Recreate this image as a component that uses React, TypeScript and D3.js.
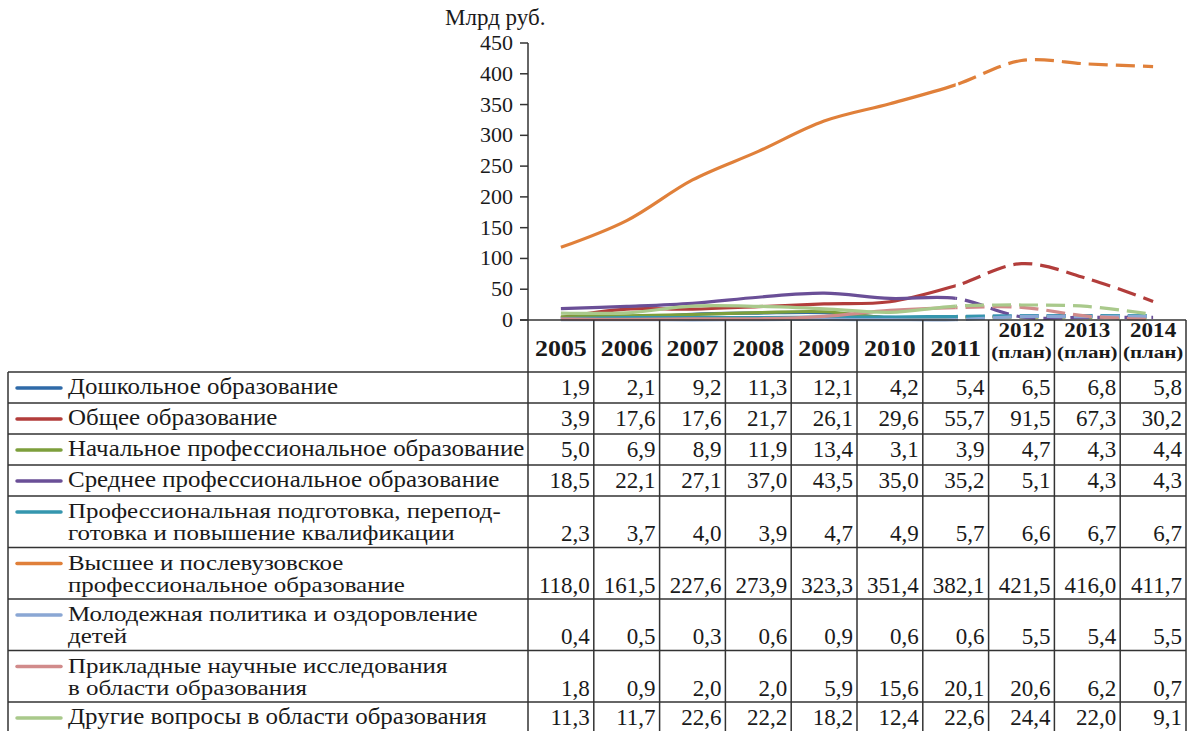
import React from 'react';
import * as d3 from 'd3';

// years in the table header; last three are planned
const years = ['2005', '2006', '2007', '2008', '2009', '2010', '2011', '2012', '2013', '2014'];
const isPlan = [false, false, false, false, false, false, false, true, true, true];
const yTicks = [0, 50, 100, 150, 200, 250, 300, 350, 400, 450];

// row labels (already split the way the source breaks them)
const seriesLabels = [
  ['Дошкольное образование'],
  ['Общее образование'],
  ['Начальное профессиональное образование'],
  ['Среднее профессиональное образование'],
  ['Профессиональная подготовка, перепод-', 'готовка и повышение квалификации'],
  ['Высшее и послевузовское', 'профессиональное образование'],
  ['Молодежная политика и оздоровление', 'детей'],
  ['Прикладные научные исследования', 'в области образования'],
  ['Другие вопросы в области образования'],
];

const preschool = [1.9, 2.1, 9.2, 11.3, 12.1, 4.2, 5.4, 6.5, 6.8, 5.8];
const general = [3.9, 17.6, 17.6, 21.7, 26.1, 29.6, 55.7, 91.5, 67.3, 30.2];
const primaryProf = [5.0, 6.9, 8.9, 11.9, 13.4, 3.1, 3.9, 4.7, 4.3, 4.4];
const secondaryProf = [18.5, 22.1, 27.1, 37.0, 43.5, 35.0, 35.2, 5.1, 4.3, 4.3];
const retraining = [2.3, 3.7, 4.0, 3.9, 4.7, 4.9, 5.7, 6.6, 6.7, 6.7];
const higher = [118.0, 161.5, 227.6, 273.9, 323.3, 351.4, 382.1, 421.5, 416.0, 411.7];
const youth = [0.4, 0.5, 0.3, 0.6, 0.9, 0.6, 0.6, 5.5, 5.4, 5.5];
const research = [1.8, 0.9, 2.0, 2.0, 5.9, 15.6, 20.1, 20.6, 6.2, 0.7];
const other = [11.3, 11.7, 22.6, 22.2, 18.2, 12.4, 22.6, 24.4, 22.0, 9.1];

const seriesValues = [preschool, general, primaryProf, secondaryProf, retraining, higher, youth, research, other];
const colors = ['#2f6aa8', '#b23d3b', '#7d9f3c', '#6a4f97', '#3596ae', '#e0803a', '#8aa7d4', '#d18b8b', '#a9c98b'];

const font = 'Liberation Serif';

const W = 1188;
const H = 731;
const tableLeft = 8;
const labelRight = 528;
const tableRight = 1186;
const plotTop = 43;
const axisY = 320;
const headerBottom = 372;
const lineH = 22;

// text stretched horizontally a little, the source typeface is wider than Liberation Serif
const Wide = ({ x, y, sx = 1, anchor = 'start', size, bold = false, children }) => (
  <text transform={`translate(${x},${y}) scale(${sx},1)`} fontSize={size} fontWeight={bold ? 'bold' : 'normal'}
    textAnchor={anchor} fill="#1a1a1a">
    {children}
  </text>
);

const App = () => {
  const x = d3.scaleBand().domain(years).range([labelRight, tableRight]);
  const y = d3.scaleLinear().domain([0, 450]).range([axisY, plotTop]);
  const cx = (i) => (x(years[i]) as number) + x.bandwidth() / 2;

  const line = d3.line<number>()
    .x((_, i) => cx(i))
    .y(d => y(d))
    .curve(d3.curveCatmullRom.alpha(0.5));

  // solid up to 2011, dashed after
  const splitX = cx(years.indexOf('2011'));

  // row layout for the table
  let top = headerBottom;
  const rows = seriesLabels.map((lines, i) => {
    const h = lines.length === 1 ? 31 : 51.5;
    const r = { top, h, lines, i };
    top += h;
    return r;
  });

  return (
    <svg width={W} height={H} style={{ position: 'absolute', left: 0, top: 0, background: '#fff', fontFamily: font }}>
      <defs>
        <clipPath id="solidPart">
          <rect x={0} y={0} width={splitX} height={axisY + 5} />
        </clipPath>
        <clipPath id="dashPart">
          <rect x={splitX} y={0} width={W - splitX} height={axisY + 5} />
        </clipPath>
      </defs>

      {/* unit label */}
      <Wide x={445} y={25} size={23}>Млрд руб.</Wide>

      {/* y axis */}
      <line x1={labelRight} x2={labelRight} y1={plotTop} y2={axisY} stroke="#333" strokeWidth={1.5} />
      {yTicks.map(t => (
        <g key={t}>
          <line x1={labelRight - 8} x2={labelRight} y1={y(t)} y2={y(t)} stroke="#333" strokeWidth={1.5} />
          <Wide x={labelRight - 15} y={y(t) + 7} size={22} anchor="end">{t}</Wide>
        </g>
      ))}

      {/* lines */}
      {seriesValues.map((vals, i) => (
        <g key={i}>
          <path d={line(vals) || ''} fill="none" stroke={colors[i]} strokeWidth={3.2} clipPath="url(#solidPart)" />
          <path d={line(vals) || ''} fill="none" stroke={colors[i]} strokeWidth={3.2} strokeDasharray="19 8" clipPath="url(#dashPart)" />
        </g>
      ))}

      {/* table header */}
      <line x1={labelRight - 8} x2={tableRight} y1={axisY} y2={axisY} stroke="#333" strokeWidth={1.5} />
      {years.map((yr, i) => (
        isPlan[i] ? (
          <g key={yr}>
            <Wide x={cx(i)} y={337} size={22} sx={1.05} anchor="middle" bold>{yr}</Wide>
            <Wide x={cx(i)} y={358} size={17.5} sx={1.2} anchor="middle" bold>(план)</Wide>
          </g>
        ) : (
          <Wide key={yr} x={cx(i)} y={356} size={24} sx={1.08} anchor="middle" bold>{yr}</Wide>
        )
      ))}

      {/* table body */}
      {rows.map(r => (
        <g key={r.i}>
          <line x1={tableLeft} x2={tableRight} y1={r.top} y2={r.top} stroke="#333" strokeWidth={1.5} />
          <line x1={17} x2={61} y1={r.top + 16} y2={r.top + 16} stroke={colors[r.i]} strokeWidth={3.5} strokeLinecap="round" />
          {r.lines.map((t, k) => (
            <Wide key={k} x={68} y={r.top + 22 + k * lineH} size={r.lines.length > 1 ? 21.5 : 23}
              sx={r.lines.length > 1 ? 1.16 : 1.085}>{t}</Wide>
          ))}
          {seriesValues[r.i].map((v, j) => (
            <Wide key={j} x={(x(years[j]) as number) + x.bandwidth() - 4} y={r.top + 23 + (r.lines.length - 1) * lineH}
              size={23} anchor="end">
              {v.toFixed(1).replace('.', ',')}
            </Wide>
          ))}
        </g>
      ))}

      {/* vertical grid lines */}
      <line x1={tableLeft} x2={tableLeft} y1={headerBottom} y2={H + 10} stroke="#333" strokeWidth={1.5} />
      {years.map((yr) => (
        <line key={yr} x1={x(yr) as number} x2={x(yr) as number} y1={axisY} y2={H + 10} stroke="#333" strokeWidth={1.5} />
      ))}
      <line x1={tableRight} x2={tableRight} y1={axisY} y2={H + 10} stroke="#333" strokeWidth={1.5} />
    </svg>
  );
};

export default App;
